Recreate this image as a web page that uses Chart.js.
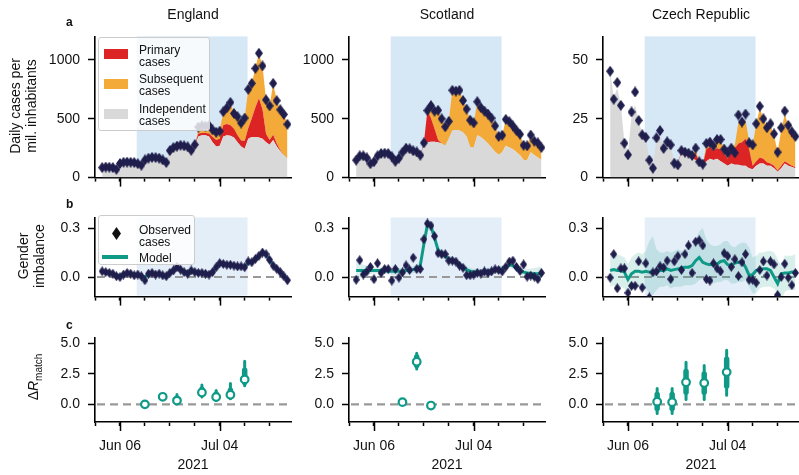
<!DOCTYPE html>
<html>
<head>
<meta charset="utf-8">
<script src="https://cdn.jsdelivr.net/npm/chart.js@4.4.0/dist/chart.umd.min.js"></script>
<style>
body{margin:0;background:#fff;width:799px;height:475px;overflow:hidden;position:relative;font-family:"Liberation Sans",Arial,sans-serif;color:#111}
canvas{position:absolute}
.t{position:absolute;white-space:nowrap;font-size:14px;transform:translate(-50%,-50%);text-align:center}
.rot{transform:translate(-50%,-50%) rotate(-90deg);line-height:16px}
.let{position:absolute;font-weight:bold;font-size:12px}
.leg{position:absolute;background:rgba(255,255,255,0.8);border:1px solid #ccc;border-radius:3px}
.lt{position:absolute;font-size:12px;line-height:12px;white-space:nowrap}
.sw{position:absolute;width:24px;height:10px}
</style>
</head>
<body>
<script>
// days since 30 May 2021
const days = [2,3,4,5,6,7,8,9,10,11,12,13,14,15,16,17,18,19,20,21,22,23,24,25,26,27,28,29,30,31,32,33,34,35,36,37,38,39,40,41,42,43,44,45,46,47,48,49,50,51,52,53,54];
const xTickDays = [0,7,14,21,28,35,42,49];
const xLabelDays = [7,35];
const xLabelText = ['Jun 06','Jul 04'];
const euroStart = 11.7, euroEnd = 42.8;

// row a: daily cases per mil.
const engObs = [85,90,88,85,70,120,130,132,130,128,118,105,150,165,172,170,165,150,128,230,255,268,275,270,262,232,280,430,440,438,442,405,385,395,560,593,639,545,518,464,506,750,801,928,1057,949,661,610,801,654,577,537,453];
const engIndep = [85,90,88,85,70,120,130,132,130,128,118,105,150,165,172,170,165,150,128,222,245,255,262,258,250,222,265,350,360,360,350,300,265,270,350,360,355,340,300,265,245,330,345,345,340,330,300,280,320,265,225,190,160];
const engPrimary = [0,0,0,0,0,0,0,0,0,0,0,0,0,0,0,0,0,0,0,6,8,10,10,9,9,8,10,25,20,20,25,45,55,60,95,95,90,75,60,50,65,90,160,250,335,250,70,40,45,25,8,2,0];
const engSubseq = [0,0,0,0,0,0,0,0,0,0,0,0,0,0,0,0,0,0,0,2,2,3,3,3,3,2,5,25,25,25,30,50,70,75,110,140,180,140,160,155,200,330,295,335,380,370,290,290,435,365,347,343,295];

const scoObs = [148,185,185,168,118,135,185,205,208,205,178,138,165,215,250,245,228,218,190,295,570,612,565,572,500,432,478,742,735,742,655,582,488,465,645,595,565,540,505,440,350,360,495,475,440,400,368,275,270,362,310,295,255];
const scoIndep = [148,185,185,168,118,135,185,205,208,205,178,138,165,215,250,245,228,218,190,270,300,305,305,300,290,270,330,400,405,400,385,350,260,255,360,345,320,290,255,220,195,215,270,255,240,215,190,150,150,215,190,170,150];
const scoPrimary = [0,0,0,0,0,0,0,0,0,0,0,0,0,0,0,0,0,0,0,25,270,200,110,20,0,0,0,0,0,0,0,0,0,0,0,0,0,0,0,0,0,0,0,0,0,0,0,0,0,0,0,0,0];
const scoSubseq = [0,0,0,0,0,0,0,0,0,0,0,0,0,0,0,0,0,0,0,0,0,107,150,252,210,162,148,342,330,342,270,232,228,210,285,250,245,250,250,220,155,145,225,220,200,185,178,125,120,147,120,125,105];

const czeObs = [45.2,33.3,40.4,30.7,14.6,9.7,27.9,36.4,24.3,18.2,17.1,7.4,4.0,16.9,20.0,12.4,15.2,13.9,6.1,5.4,11.5,10.8,10.4,9.4,12.5,6.7,5.7,14.5,15.1,13.5,16.2,16.2,12.1,10.5,12.5,10.5,26.6,23.6,27.0,14.8,13.9,22.9,30.3,25.0,21.2,22.9,18.6,10.8,21.2,28.3,22.2,19.5,17.5];
const czeIndep = [45,34,38,31,15,11,26,31,24,19,17,8,5,16,19,13,15,13,7,6,10,9.5,9,8,7.5,5.5,5,7,8,7.5,8,7,6,5,6,5.5,5.5,5,5,4,3.5,5,6,6,5,5,4,2.5,4,6,5,4.5,4];
const czePrimary = [0,0,0,0,0,0,0,0,0,0,0,0,0,0,0,0,0,0,0,0,1,1,1,1.2,3,1,0.5,5,5,4,4.5,5,4,3,5,7,9,10,11.5,8,1.5,2,2.5,2,1.5,1,1,0.5,1,1,1,0.5,0.5];
const czeSubseq = [0,0,0,0,0,0,0,0,0,0,0,0,0,0,0,0,0,0,0,0,0.5,0.3,0.4,0.2,1.5,0.2,0.2,2,2,2,3.5,4,2,2.5,1.5,1.5,9,9,8,3.5,9,16,21,17,15,16,13,8,15,20,16,14,13];

const casesTicks = [0,500,1000];
const casesTicksCze = [0,25,50];

// row b: gender imbalance
const engGender = [0.035,0.03,0.025,0.02,0.005,0.0,0.015,0.025,0.02,0.01,0.015,0.005,-0.02,0.02,0.025,0.015,0.02,0.01,0.005,0.025,0.04,0.06,0.045,0.03,0.02,0.04,0.03,0.025,0.025,0.02,0.015,0.03,0.06,0.085,0.08,0.075,0.075,0.07,0.065,0.065,0.06,0.095,0.09,0.11,0.13,0.15,0.14,0.105,0.07,0.05,0.03,0.005,-0.02];
const engModel = [0.03,0.03,0.025,0.02,0.012,0.01,0.015,0.018,0.018,0.015,0.012,0.005,0.0,0.012,0.018,0.018,0.015,0.012,0.012,0.025,0.04,0.05,0.045,0.035,0.03,0.032,0.03,0.025,0.022,0.02,0.02,0.035,0.06,0.08,0.08,0.075,0.072,0.068,0.065,0.063,0.065,0.085,0.095,0.11,0.13,0.145,0.135,0.105,0.075,0.05,0.03,0.008,-0.015];

const scoGender = [-0.017,0.103,0.015,0.034,0.062,-0.013,0.084,0.025,0.049,0.049,-0.022,0.049,-0.004,0.028,0.071,0.043,0.118,0.049,0.049,0.231,0.328,0.315,0.25,0.146,0.14,0.14,0.1,0.1,0.094,0.07,0.056,0.011,0.011,0.015,0.025,0.021,0.034,0.025,0.034,0.047,0.043,0.034,0.062,0.094,0.1,0.062,0.037,0.077,0.002,0.009,0.002,-0.013,0.025];
const scoModel = [0.04,0.04,0.04,0.04,0.04,0.04,0.04,0.04,0.04,0.035,0.035,0.035,0.035,0.035,0.04,0.04,0.045,0.05,0.07,0.2,0.32,0.31,0.24,0.165,0.14,0.13,0.11,0.1,0.09,0.075,0.06,0.045,0.035,0.03,0.03,0.03,0.03,0.035,0.04,0.045,0.045,0.05,0.06,0.075,0.07,0.05,0.035,0.03,0.025,0.02,0.02,0.02,0.02];
const scoLow = [-0.02,-0.005,0.005,0.01,0.02,0.02,0.02,0.02,0.02,0.015,0.015,0.015,0.015,0.015,0.02,0.02,0.025,0.025,0.04,0.17,0.29,0.28,0.21,0.135,0.115,0.11,0.09,0.08,0.07,0.055,0.04,0.025,0.015,0.01,0.01,0.01,0.01,0.015,0.02,0.025,0.025,0.03,0.04,0.055,0.05,0.03,0.015,0.005,0.0,-0.01,-0.015,-0.02,-0.025];
const scoHigh = [0.1,0.085,0.075,0.07,0.06,0.06,0.06,0.06,0.06,0.055,0.055,0.055,0.055,0.055,0.06,0.06,0.065,0.075,0.1,0.23,0.35,0.34,0.27,0.195,0.165,0.15,0.13,0.12,0.11,0.095,0.08,0.065,0.055,0.05,0.05,0.05,0.05,0.055,0.06,0.065,0.065,0.07,0.08,0.095,0.09,0.07,0.055,0.055,0.05,0.05,0.055,0.06,0.065];

const czeGender = [-0.004,0.14,-0.069,0.053,0.053,-0.097,-0.054,-0.054,0.096,-0.065,0.084,-0.125,0.028,0.034,0.066,0.058,0.1,-0.013,0.096,0.128,0.043,0.14,0.193,0.025,0.216,0.225,0.193,-0.013,-0.022,0.084,0.053,0.034,0.146,0.128,0.062,0.109,0.006,0.09,0.14,-0.017,-0.017,-0.035,0.043,0.096,0.009,0.096,0.077,-0.11,0.0,0.081,-0.004,-0.05,0.025];
const czeModel = [0.04,0.045,0.04,0.04,0.03,-0.015,0.02,0.035,0.035,0.03,0.035,0.03,0.03,0.035,0.04,0.04,0.05,0.04,0.045,0.05,0.055,0.06,0.06,0.07,0.1,0.12,0.09,0.08,0.075,0.08,0.08,0.095,0.1,0.075,0.07,0.085,0.09,0.095,0.06,0.01,0.015,0.04,0.045,0.05,0.05,0.04,0.0,-0.04,0.02,0.025,0.025,0.03,0.03];
const czeLow = [-0.06,-0.05,-0.06,-0.06,-0.07,-0.11,-0.08,-0.07,-0.06,-0.07,-0.07,-0.1,-0.11,-0.08,-0.06,-0.06,-0.05,-0.07,-0.06,-0.06,-0.06,-0.05,-0.05,-0.05,-0.04,-0.02,-0.01,-0.04,-0.04,-0.04,-0.03,-0.03,-0.02,-0.02,-0.04,-0.04,-0.03,-0.03,-0.02,-0.06,-0.1,-0.1,-0.07,-0.06,-0.06,-0.06,-0.07,-0.1,-0.15,-0.09,-0.08,-0.08,-0.08];
const czeHigh = [0.14,0.15,0.14,0.13,0.12,0.08,0.12,0.14,0.15,0.14,0.16,0.22,0.25,0.17,0.15,0.15,0.16,0.15,0.16,0.17,0.16,0.16,0.18,0.19,0.22,0.28,0.3,0.23,0.2,0.19,0.19,0.2,0.22,0.22,0.19,0.18,0.2,0.21,0.21,0.18,0.12,0.13,0.15,0.15,0.16,0.16,0.15,0.11,0.07,0.13,0.13,0.13,0.14];

const genderTicks = [0, 0.3];

// row c: delta R match, match days
const engMatch = [14,19,23,30,34,38,42];
const engEst = [0.0,0.62,0.31,0.97,0.6,0.79,2.05];
const engLo95 = [-0.1,0.45,0.05,0.6,0.32,0.45,1.52];
const engHi95 = [0.1,0.8,0.8,1.58,1.13,1.71,3.55];
const engLo50 = [-0.05,0.55,0.2,0.8,0.5,0.62,1.8];
const engHi50 = [0.05,0.7,0.5,1.25,0.85,1.15,2.8];

const scoMatch = [15,19,23];
const scoEst = [0.18,3.5,-0.1];
const scoLo95 = [0.0,2.9,-0.3];
const scoHi95 = [0.4,4.2,0.1];
const scoLo50 = [0.1,3.2,-0.2];
const scoHi50 = [0.3,3.9,0.0];

const czeMatch = [15.2,19.4,23.3,28.4,34.7];
const czeEst = [0.22,0.18,1.82,1.76,2.65];
const czeLo95 = [-0.75,-0.75,0.4,0.4,0.75];
const czeHi95 = [1.3,1.3,3.45,3.2,4.45];
const czeLo50 = [-0.35,-0.35,1.0,1.0,1.5];
const czeHi50 = [0.8,0.8,2.7,2.5,3.7];

const dRTicks = [0, 2.5, 5];

const RED = '#dd2424', ORANGE = '#f4aa38', GRAY = '#d9d9d9', NAVY = '#1f1e4c', TEAL = '#0e9a86';

Chart.defaults.font.family = '"Liberation Sans", Arial, sans-serif';
Chart.defaults.font.size = 14;
Chart.defaults.color = '#111';

function diamond(w, h, color){
  const c = document.createElement('canvas');
  c.width = w; c.height = h;
  const g = c.getContext('2d');
  g.fillStyle = color;
  g.beginPath(); g.moveTo(w/2,0); g.lineTo(w,h/2); g.lineTo(w/2,h); g.lineTo(0,h/2); g.closePath(); g.fill();
  return c;
}
const diaA = diamond(8, 11, NAVY);
const diaB = diamond(7, 10, NAVY);

const pts = (xs, ys) => xs.map((x,i) => ({x:x, y:ys[i]}));
const bars = (xs, lo, hi) => xs.flatMap((x,i) => [{x:x,y:lo[i]},{x:x,y:hi[i]},{x:x,y:null}]);

const shadePlugin = {
  id:'shade',
  beforeDraw(chart, args, opts){
    if(!opts.color) return;
    const {ctx, chartArea:a, scales:{x}} = chart;
    const x0 = x.getPixelForValue(euroStart), x1 = x.getPixelForValue(euroEnd);
    ctx.save(); ctx.fillStyle = opts.color;
    ctx.fillRect(x0, a.top, x1-x0, a.bottom-a.top-1);
    ctx.restore();
  }
};
const zeroPlugin = {
  id:'zeroLine',
  beforeDatasetsDraw(chart, args, opts){
    if(!opts.show) return;
    const {ctx, chartArea:a, scales:{y}} = chart;
    const y0 = y.getPixelForValue(0);
    ctx.save(); ctx.strokeStyle = '#999'; ctx.lineWidth = 2.2; ctx.setLineDash([8,5]);
    ctx.beginPath(); ctx.moveTo(a.left+2, y0); ctx.lineTo(a.right, y0); ctx.stroke();
    ctx.restore();
  }
};
const majorTickPlugin = {
  id:'majorTicks',
  afterDraw(chart){
    const {ctx, chartArea:a, scales:{x}} = chart;
    ctx.save(); ctx.strokeStyle = '#000'; ctx.lineWidth = 1.5;
    xLabelDays.forEach(v => {
      const px = Math.round(x.getPixelForValue(v)) + 0.5;
      ctx.beginPath(); ctx.moveTo(px, a.bottom); ctx.lineTo(px, a.bottom + 9); ctx.stroke();
    });
    ctx.restore();
  }
};

const COL_X = [95, 349, 603], PLOT_W = 196;
const ROWS = {a:{top:32,h:148,bottom:14}, b:{top:213,h:86,bottom:14}, c:{top:333,h:89,bottom:50}};

function panel(col, row, cfg){
  const r = ROWS[row];
  const cv = document.createElement('canvas');
  const W = 90 + PLOT_W + 10, H = 12 + r.h + r.bottom;
  cv.width = W; cv.height = H;
  cv.style.left = (COL_X[col] - 90) + 'px';
  cv.style.top = (r.top - 12) + 'px';
  cv.style.width = W + 'px'; cv.style.height = H + 'px';
  document.body.appendChild(cv);
  new Chart(cv, {
    type:'line',
    data:{datasets: cfg.datasets},
    options:{
      responsive:false, animation:false, events:[],
      layout:{padding:{top:12, right:10, left:0, bottom:0}},
      elements:{line:{tension:0}},
      plugins:{
        legend:{display:false}, tooltip:{enabled:false},
        shade:{color: cfg.shade || null},
        zeroLine:{show: !!cfg.zero}
      },
      scales:{
        x:{
          type:'linear', min:0, max:55,
          afterFit: s => { s.height = r.bottom; },
          afterBuildTicks: s => { s.ticks = xTickDays.map(v => ({value:v})); },
          ticks:{autoSkip:false, maxRotation:0, padding:12,
            callback: v => row === 'c' && xLabelDays.indexOf(v) >= 0 ? xLabelText[xLabelDays.indexOf(v)] : ''},
          grid:{drawOnChartArea:false, tickLength:4, tickWidth:1.5, tickColor:'#000'},
          border:{color:'#000', width:1.6}
        },
        y:{
          type:'linear', min:cfg.yMin, max:cfg.yMax, stacked: !!cfg.stacked,
          afterFit: s => { s.width = 90; },
          afterBuildTicks: s => { s.ticks = cfg.yTicks.map(v => ({value:v})); },
          ticks:{padding:8, callback: cfg.fmt},
          grid:{drawOnChartArea:false, tickLength:7, tickWidth:1.5, tickColor:'#000'},
          border:{color:'#000', width:1.6}
        }
      }
    },
    plugins:[shadePlugin, zeroPlugin, majorTickPlugin]
  });
}

// first dataset is drawn on top; model areas stack by index: independent, primary, subsequent
function casesSets(obs, indep, prim, subs){
  return [
    {type:'scatter', data:pts(days, obs), stack:'obs', pointStyle:diaA, pointRadius:5, clip:0},
    {data:pts(days, indep), stack:'model', fill:'origin', backgroundColor:GRAY, borderWidth:0, pointRadius:0},
    {data:pts(days, prim), stack:'model', fill:'-1', backgroundColor:RED, borderWidth:0, pointRadius:0},
    {data:pts(days, subs), stack:'model', fill:'-1', backgroundColor:ORANGE, borderWidth:0, pointRadius:0}
  ];
}
function genderSets(obs, model, lo, hi){
  const s = [
    {type:'scatter', data:pts(days, obs), pointStyle:diaB, pointRadius:5, clip:0},
    {data:pts(days, model), borderColor:TEAL, borderWidth:3, pointRadius:0, fill:false}
  ];
  if(lo){
    s.push({data:pts(days, hi), borderWidth:0, pointRadius:0, fill:'+1', backgroundColor:'rgba(14,154,134,0.16)'});
    s.push({data:pts(days, lo), borderWidth:0, pointRadius:0, fill:false});
  }
  return s;
}
function matchSets(md, est, lo95, hi95, lo50, hi50){
  return [
    {type:'scatter', data:pts(md, est), pointStyle:'circle', pointRadius:3.8, borderWidth:2.2, borderColor:TEAL, backgroundColor:'#fff'},
    {data:bars(md, lo50, hi50), borderColor:TEAL, borderWidth:5.5, borderCapStyle:'round', pointRadius:0, fill:false},
    {data:bars(md, lo95, hi95), borderColor:TEAL, borderWidth:3, borderCapStyle:'round', pointRadius:0, fill:false}
  ];
}

const fmtInt = v => String(v);
const fmt1 = v => v.toFixed(1);

panel(0,'a',{datasets:casesSets(engObs,engIndep,engPrimary,engSubseq), yMin:0, yMax:1200, yTicks:casesTicks, fmt:fmtInt, stacked:true, shade:'#d6e7f6'});
panel(1,'a',{datasets:casesSets(scoObs,scoIndep,scoPrimary,scoSubseq), yMin:0, yMax:1200, yTicks:casesTicks, fmt:fmtInt, stacked:true, shade:'#d6e7f6'});
panel(2,'a',{datasets:casesSets(czeObs,czeIndep,czePrimary,czeSubseq), yMin:0, yMax:60, yTicks:casesTicksCze, fmt:fmtInt, stacked:true, shade:'#d6e7f6'});

panel(0,'b',{datasets:genderSets(engGender,engModel), yMin:-0.12, yMax:0.365, yTicks:genderTicks, fmt:fmt1, shade:'#e4eef8', zero:true});
panel(1,'b',{datasets:genderSets(scoGender,scoModel,scoLow,scoHigh), yMin:-0.12, yMax:0.365, yTicks:genderTicks, fmt:fmt1, shade:'#e4eef8', zero:true});
panel(2,'b',{datasets:genderSets(czeGender,czeModel,czeLow,czeHigh), yMin:-0.12, yMax:0.365, yTicks:genderTicks, fmt:fmt1, shade:'#e4eef8', zero:true});

panel(0,'c',{datasets:matchSets(engMatch,engEst,engLo95,engHi95,engLo50,engHi50), yMin:-1.45, yMax:5.5, yTicks:dRTicks, fmt:fmt1, zero:true});
panel(1,'c',{datasets:matchSets(scoMatch,scoEst,scoLo95,scoHi95,scoLo50,scoHi50), yMin:-1.45, yMax:5.5, yTicks:dRTicks, fmt:fmt1, zero:true});
panel(2,'c',{datasets:matchSets(czeMatch,czeEst,czeLo95,czeHi95,czeLo50,czeHi50), yMin:-1.45, yMax:5.5, yTicks:dRTicks, fmt:fmt1, zero:true});

// text
function txt(html, x, y, cls){
  const d = document.createElement('div');
  d.className = cls || 't';
  d.innerHTML = html;
  d.style.left = x + 'px'; d.style.top = y + 'px';
  document.body.appendChild(d);
  return d;
}
['England','Scotland','Czech Republic'].forEach((n,i) => {
  txt(n, COL_X[i] + PLOT_W/2, 14);
  txt('2021', COL_X[i] + PLOT_W/2, 464);
});
txt('Daily cases per<br>mil. inhabitants', 23, 106, 't rot');
txt('Gender<br>imbalance', 31, 256, 't rot');
txt('&Delta;<i>R</i><sub style="font-size:10px">match</sub>', 36, 377, 't rot');
txt('a', 66, 15, 'let');
txt('b', 66, 197, 'let');
txt('c', 66, 318, 'let');

// legend a
const la = document.createElement('div'); la.className = 'leg';
Object.assign(la.style, {left:'98px', top:'37px', width:'110px', height:'92px'});
document.body.appendChild(la);
[[RED,'Primary<br>cases',49,44],[ORANGE,'Subsequent<br>cases',79,73],[GRAY,'Independent<br>cases',109,103]].forEach(e => {
  const sw = document.createElement('div'); sw.className = 'sw';
  Object.assign(sw.style, {left:'104px', top:e[2]+'px', background:e[0]});
  document.body.appendChild(sw);
  txt(e[1], 139, e[3], 'lt');
});
// legend b
const lb = document.createElement('div'); lb.className = 'leg';
Object.assign(lb.style, {left:'98px', top:'215px', width:'95px', height:'48px'});
document.body.appendChild(lb);
const dm = document.createElement('div');
Object.assign(dm.style, {position:'absolute', left:'112px', top:'227px', width:'9px', height:'13px', background:'#111', clipPath:'polygon(50% 0,100% 50%,50% 100%,0 50%)'});
document.body.appendChild(dm);
const ml = document.createElement('div');
Object.assign(ml.style, {position:'absolute', left:'102px', top:'255px', width:'26px', height:'4px', background:TEAL});
document.body.appendChild(ml);
txt('Observed<br>cases', 139, 224, 'lt');
txt('Model', 139, 252, 'lt');
</script>
</body>
</html>
